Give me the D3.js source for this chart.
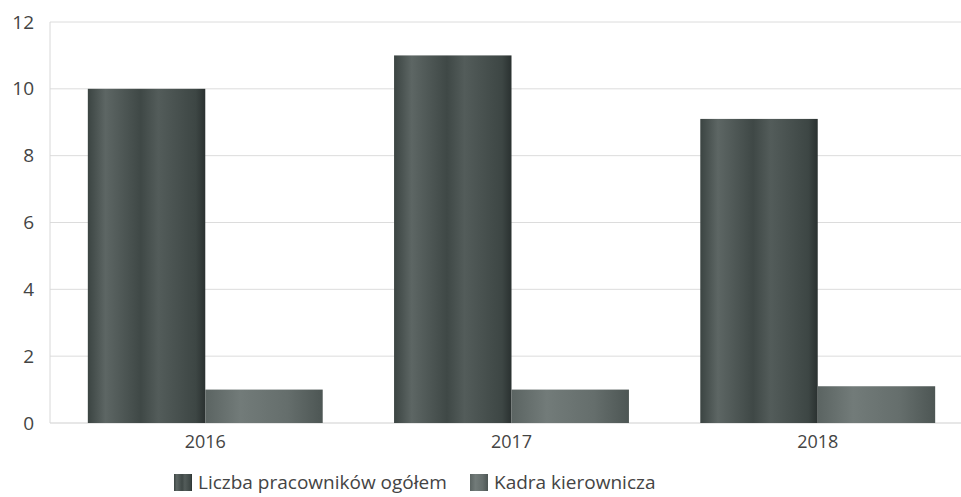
<!DOCTYPE html>
<html><head><meta charset="utf-8">
<script src="https://cdn.jsdelivr.net/npm/d3@7"></script>
<style>body{margin:0;background:#fff}svg{display:block}text{font-family:"Open Sans",sans-serif;fill:#444}</style>
</head><body>
<script>
const categories = ["2016", "2017", "2018"];
const seriesNames = ["Liczba pracowników ogółem", "Kadra kierownicza"];
const totalEmployees = [10, 11, 9.1];
const management = [1, 1, 1.1];
const yTicks = [0, 2, 4, 6, 8, 10, 12];

const W = 961, H = 497;
const svg = d3.select("body").append("svg").attr("width", W).attr("height", H);
const defs = svg.append("defs");
function grad(id, stops) {
  const g = defs.append("linearGradient").attr("id", id).attr("x1", "0").attr("x2", "1").attr("y1", "0").attr("y2", "0");
  stops.forEach(s => g.append("stop").attr("offset", s[0]).attr("stop-color", s[1]));
}
grad("g0", [[0, "#3b4442"], [0.15, "#5d6664"], [0.45, "#3f4846"], [0.6, "#535c5a"], [0.92, "#3d4644"], [1, "#2a3130"]]);
grad("g1", [[0, "#5b6462"], [0.3, "#727b79"], [0.7, "#656e6c"], [1, "#4d5654"]]);

const m = {left: 50, top: 22, bottom: 74};
const x0 = d3.scaleBand().domain(categories).range([52, 971]).paddingInner(0.233).paddingOuter(0.117);
const x1 = d3.scaleBand().domain(seriesNames).range([0, x0.bandwidth()]).padding(0);
const y = d3.scaleLinear().domain([0, 12]).range([H - m.bottom, m.top]);

// gridlines
svg.append("g").selectAll("line").data(yTicks.filter(t => t > 0)).join("line")
  .attr("x1", m.left).attr("x2", W).attr("y1", d => y(d)).attr("y2", d => y(d))
  .attr("stroke", "#dcdcdc").attr("stroke-width", 1);
svg.append("line").attr("x1", m.left).attr("x2", W).attr("y1", y(0)).attr("y2", y(0)).attr("stroke", "#cfcfcf");
svg.append("line").attr("x1", m.left).attr("x2", m.left).attr("y1", y(12)).attr("y2", y(0)).attr("stroke", "#d8d8d8");

// y axis labels
const yAxis = d3.axisLeft(y).tickValues(yTicks).tickSize(0).tickPadding(16);
const ya = svg.append("g").attr("transform", `translate(${m.left},0)`).call(yAxis);
ya.select(".domain").remove();
ya.selectAll("text").style("font-size", "19px").style("font-family", '"Open Sans",sans-serif').attr("fill", "#444");

// x axis labels
const xAxis = d3.axisBottom(x0).tickSize(0).tickPadding(12);
const xa = svg.append("g").attr("transform", `translate(0,${y(0)})`).call(xAxis);
xa.select(".domain").remove();
xa.selectAll("text").style("font-size", "18px").style("font-family", '"Open Sans",sans-serif').attr("fill", "#444");

// bars
const data = categories.map((c, i) => ({c, vals: [totalEmployees[i], management[i]]}));
const groups = svg.append("g").selectAll("g").data(data).join("g").attr("transform", d => `translate(${x0(d.c)},0)`);
groups.selectAll("rect").data(d => d.vals.map((v, j) => ({v, s: seriesNames[j], j}))).join("rect")
  .attr("x", d => x1(d.s)).attr("width", x1.bandwidth())
  .attr("y", d => y(d.v)).attr("height", d => y(0) - y(d.v))
  .attr("fill", d => `url(#g${d.j})`);

// legend
const legendX = [174, 470];
const lg = svg.append("g").selectAll("g").data(seriesNames).join("g")
  .attr("transform", (d, i) => `translate(${legendX[i]},474)`);
lg.append("rect").attr("width", 18).attr("height", 17).attr("fill", (d, i) => `url(#g${i})`);
lg.append("text").attr("x", 24).attr("y", 15).style("font-size", "19px").text(d => d);
</script>
</body></html>
